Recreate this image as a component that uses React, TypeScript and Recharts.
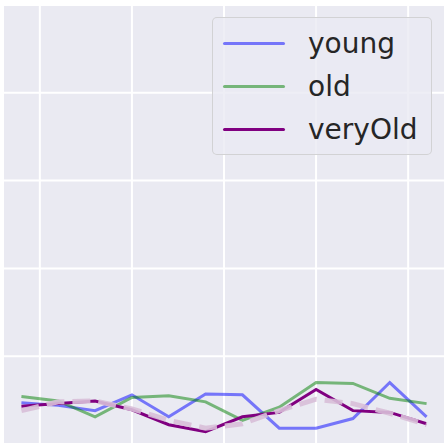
import { CartesianGrid, Legend, Line, LineChart, XAxis, YAxis } from "recharts"

const xs = [1, 3, 5, 7, 9, 11, 13, 15, 17, 19, 21, 23]
const young = [0.47, 0.44, 0.38, 0.56, 0.31, 0.57, 0.56, 0.18, 0.18, 0.29, 0.7, 0.31]
const old = [0.54, 0.49, 0.31, 0.53, 0.55, 0.48, 0.27, 0.42, 0.7, 0.69, 0.52, 0.46]
const veryOld = [0.43, 0.46, 0.49, 0.39, 0.22, 0.14, 0.31, 0.36, 0.62, 0.38, 0.36, 0.23]
const veryOldTrend = [0.38, 0.48, 0.49, 0.4, 0.27, 0.18, 0.23, 0.38, 0.51, 0.46, 0.35, 0.22]
const seriesOrder = ["young", "old", "veryOld"]
const xTicks = [2, 7, 12, 17, 22]
const yTicks = [1, 2, 3, 4]

const data = xs.map((x, i) => ({
    x,
    young: young[i],
    old: old[i],
    veryOld: veryOld[i],
    trend: veryOldTrend[i],
}))

const font = "'DejaVu Sans', sans-serif"

function LegendBox({ payload }: any) {
    const items = (payload || [])
        .filter((p: any) => p.type !== "none")
        .sort((a: any, b: any) => seriesOrder.indexOf(a.value) - seriesOrder.indexOf(b.value))
    return (
        <div style={{
            width: 220, height: 138, boxSizing: "border-box",
            background: "rgba(234,234,242,0.8)", border: "1.5px solid rgba(204,204,204,0.8)",
            borderRadius: 5, paddingTop: 4, fontFamily: font, fontSize: 28, color: "#262626",
        }}>
            {items.map((p: any) => (
                <div key={p.value} style={{ display: "flex", alignItems: "center", height: 43 }}>
                    <div style={{ marginLeft: 10, width: 62, height: 3, background: p.color, borderRadius: 2 }} />
                    <span style={{ marginLeft: 23 }}>{p.value}</span>
                </div>
            ))}
        </div>
    )
}

export default function App() {
    return (
        <div style={{ position: "fixed", left: 0, top: 0, width: 445, height: 444, background: "#fff", overflow: "hidden" }}>
            <LineChart width={445} height={444} data={data} margin={{ top: 5, right: 0, bottom: 0, left: 3 }}>
                <CartesianGrid fill="#EAEAF2" stroke="#fff" strokeWidth={2} strokeOpacity={1}
                    horizontal={true} vertical={true} />
                <XAxis dataKey="x" type="number" domain={[0, 24]} ticks={xTicks} hide />
                <YAxis type="number" domain={[0, 5]} ticks={yTicks} hide />
                <Line dataKey="young" stroke="rgba(0,0,255,0.5)" strokeWidth={3} dot={false} isAnimationActive={false} />
                <Line dataKey="old" stroke="rgba(0,128,0,0.5)" strokeWidth={3} dot={false} isAnimationActive={false} />
                <Line dataKey="veryOld" stroke="#800080" strokeWidth={3} dot={false} isAnimationActive={false} />
                <Line dataKey="trend" stroke="#D8BFD8" strokeOpacity={0.9} strokeWidth={5} strokeDasharray="18 8"
                    dot={false} legendType="none" isAnimationActive={false} />
                <Legend layout="vertical" align="center" verticalAlign="middle" content={LegendBox}
                    wrapperStyle={{ position: "absolute", left: 212, top: 17, width: 220 }} />
            </LineChart>
        </div>
    )
}
